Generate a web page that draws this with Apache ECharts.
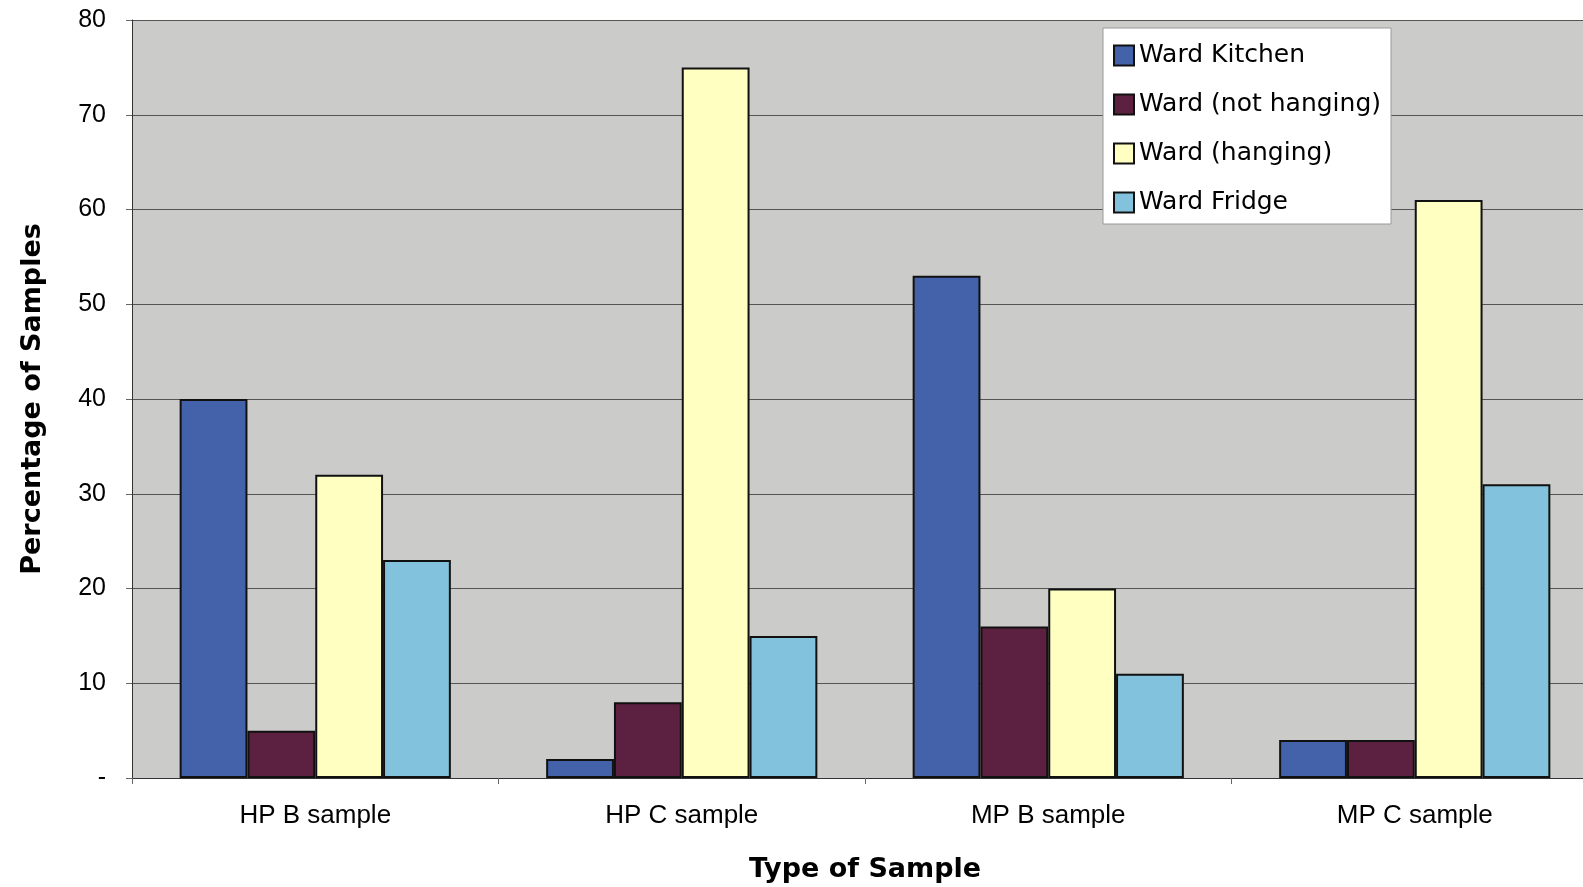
<!DOCTYPE html>
<html>
<head>
<meta charset="utf-8">
<script src="https://cdn.jsdelivr.net/npm/echarts@6/dist/echarts.min.js"></script>
<style>html,body{margin:0;padding:0;background:#fff;}#c{width:1583px;height:887px;}</style>
</head>
<body>
<div id="c"></div>
<script>
const categories = ['HP B sample', 'HP C sample', 'MP B sample', 'MP C sample'];
const seriesNames = ['Ward Kitchen', 'Ward (not hanging)', 'Ward (hanging)', 'Ward Fridge'];
const wardKitchen = [40, 2, 53, 4];
const wardNotHanging = [5, 8, 16, 4];
const wardHanging = [32, 75, 20, 61];
const wardFridge = [23, 15, 11, 31];
const yTickLabels = {0: '-', 10: '10', 20: '20', 30: '30', 40: '40', 50: '50', 60: '60', 70: '70', 80: '80'};

const colors = ['#4462AA', '#5C2140', '#FFFFC2', '#82C2DC'];
const values = [wardKitchen, wardNotHanging, wardHanging, wardFridge];
const comic = "'Comic Sans MS', 'DejaVu Sans', sans-serif";

const chart = echarts.init(document.getElementById('c'));
chart.setOption({
  animation: false,
  backgroundColor: '#ffffff',
  grid: {left: 132, top: 20, bottom: 109, right: -15, outerBoundsMode: 'none', containLabel: false,
    show: true, backgroundColor: '#CBCBC9', borderWidth: 0},
  legend: {
    orient: 'vertical', left: 1103, top: 28,
    backgroundColor: '#ffffff', borderColor: '#9a9a9a', borderWidth: 1,
    padding: [15, 10, 9, 10],
    itemWidth: 20, itemHeight: 20, itemGap: 24, icon: 'rect',
    textStyle: {fontFamily: comic, fontSize: 25, color: '#000', fontWeight: 'normal'},
    data: seriesNames
  },
  xAxis: {
    type: 'category', data: categories,
    name: 'Type of Sample', nameLocation: 'middle', nameGap: 78,
    nameTextStyle: {fontFamily: comic, fontSize: 27, fontWeight: 'bold', color: '#000'},
    axisLine: {lineStyle: {color: '#333', width: 1}},
    axisTick: {show: true, length: 6, lineStyle: {color: '#666'}},
    axisLabel: {fontFamily: 'Liberation Sans, Arial, sans-serif', fontSize: 26, color: '#000', margin: 25}
  },
  yAxis: {
    type: 'value', min: 0, max: 80, interval: 10,
    name: 'Percentage of Samples', nameLocation: 'middle', nameGap: 86, nameRotate: 90,
    nameTextStyle: {fontFamily: comic, fontSize: 27, fontWeight: 'bold', color: '#000'},
    axisLine: {show: true, lineStyle: {color: '#333', width: 1}},
    axisTick: {show: true, length: 6, lineStyle: {color: '#666'}},
    axisLabel: {fontFamily: 'Liberation Sans, Arial, sans-serif', fontSize: 25, color: '#000', margin: 26,
      formatter: v => yTickLabels[v] !== undefined ? yTickLabels[v] : String(v)},
    splitLine: {show: true, lineStyle: {color: '#555', width: 1}}
  },
  series: seriesNames.map((n, i) => ({
    name: n, type: 'bar', data: values[i],
    barGap: '0%', barCategoryGap: '26%',
    itemStyle: {color: colors[i], borderColor: '#111', borderWidth: 2}
  }))
});
</script>
</body>
</html>
